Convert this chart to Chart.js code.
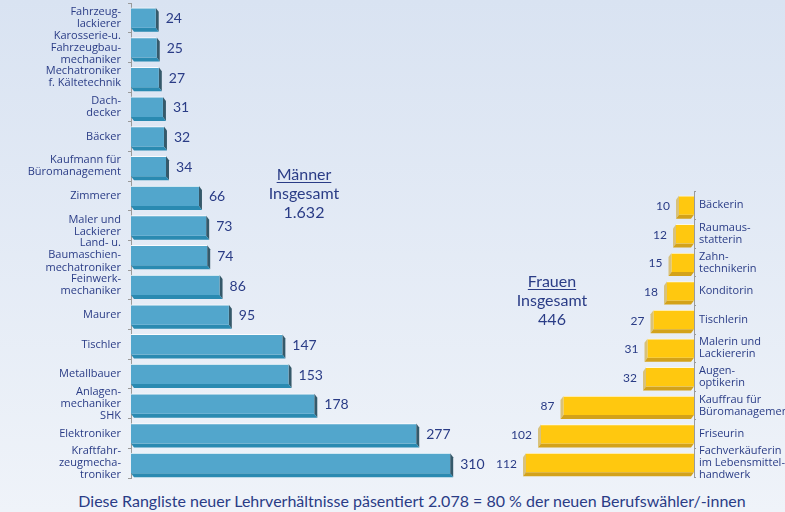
<!DOCTYPE html>
<html>
<head>
<meta charset="utf-8">
<script src="https://cdn.jsdelivr.net/npm/chart.js@4.4.0/dist/chart.umd.min.js"></script>
<style>
body{margin:0;width:785px;height:512px;overflow:hidden;position:relative;
  background:linear-gradient(#d9e3f2,#eff3f9);font-family:Lato,sans-serif;color:#2a3c86}
canvas{position:absolute;top:0}
#men{left:0}
#women{left:470px}
.total{position:absolute;text-align:center;font-size:16px;line-height:19px;transform:translateX(-50%);white-space:nowrap}
.total u{text-underline-offset:2px}
#caption{position:absolute;left:412px;top:491px;transform:translateX(-50%);white-space:nowrap;font-size:16px}
</style>
</head>
<body>
<canvas id="men" width="510" height="480"></canvas>
<canvas id="women" width="315" height="480"></canvas>
<div class="total" style="left:304px;top:164px"><u>Männer</u><br>Insgesamt<br>1.632</div>
<div class="total" style="left:552px;top:271px"><u>Frauen</u><br>Insgesamt<br>446</div>
<div id="caption">Diese Rangliste neuer Lehrverhältnisse päsentiert 2.078 = 80 % der neuen Berufswähler/-innen</div>
<script>
var berufeM = [["Fahrzeug-","lackierer"],["Karosserie-u.","Fahrzeugbau-","mechaniker"],["Mechatroniker","f. Kältetechnik"],
  ["Dach-","decker"],"Bäcker",["Kaufmann für","Büromanagement"],"Zimmerer",["Maler und","Lackierer"],
  ["Land- u.","Baumaschien-","mechatroniker"],["Feinwerk-","mechaniker"],"Maurer","Tischler","Metallbauer",
  ["Anlagen-","mechaniker","SHK"],"Elektroniker",["Kraftfahr-","zeugmecha-","troniker"]];
var anzahlM = [24,25,27,31,32,34,66,73,74,86,95,147,153,178,277,310];

var berufeW = ["Bäckerin",["Raumaus-","statterin"],["Zahn-","technikerin"],"Konditorin","Tischlerin",
  ["Malerin und","Lackiererin"],["Augen-","optikerin"],["Kauffrau für","Büromanagement"],"Friseurin",
  ["Fachverkäuferin","im Lebensmittel-","handwerk"]];
var anzahlW = [10,12,15,18,27,31,32,87,102,112];

Chart.defaults.font.family = "Lato";
Chart.defaults.color = "#2a3c86";

// 3D-Kante + Zahlen an den Balken
const tiefe = {
  id: "tiefe",
  beforeDatasetsDraw(chart, args, opts) {
    const ctx = chart.ctx, d = opts.dir;
    ctx.save();
    chart.getDatasetMeta(0).data.forEach(bar => {
      const p = bar.getProps(["x","y","base","height"], true);
      const top = p.y - p.height/2, bot = p.y + p.height/2;
      const dx = 3*d, dy = 4;
      ctx.fillStyle = opts.side;
      ctx.beginPath(); ctx.moveTo(p.x, top); ctx.lineTo(p.x+dx, top+dy);
      ctx.lineTo(p.x+dx, bot+dy); ctx.lineTo(p.x, bot); ctx.fill();
      ctx.fillStyle = opts.floor;
      ctx.beginPath(); ctx.moveTo(p.base, bot); ctx.lineTo(p.base+dx, bot+dy);
      ctx.lineTo(p.x+dx, bot+dy); ctx.lineTo(p.x, bot); ctx.fill();
    });
    ctx.restore();
  },
  afterDatasetsDraw(chart, args, opts) {
    const ctx = chart.ctx, d = opts.dir;
    const werte = chart.data.datasets[0].data;
    ctx.save();
    ctx.font = opts.size + "px Lato";
    ctx.fillStyle = "#2a3c86";
    ctx.textBaseline = "middle";
    ctx.textAlign = d > 0 ? "left" : "right";
    chart.getDatasetMeta(0).data.forEach((bar, i) => {
      ctx.fillText(werte[i], bar.x + opts.gap*d, bar.y + 1);
    });
    ctx.restore();
  }
};

function yFit(w) {
  return function(s) { s.width = w; s.paddingTop = 0; s.paddingBottom = 0; };
}

new Chart("men", {
  type: "bar",
  plugins: [tiefe],
  data: {
    labels: berufeM,
    datasets: [{
      data: anzahlM,
      backgroundColor: "#52a6cc",
      borderColor: "rgba(255,255,255,0.85)",
      borderWidth: {top:1, right:0, bottom:0, left:0},
      borderSkipped: false,
      barThickness: 20
    }]
  },
  options: {
    indexAxis: "y",
    responsive: false,
    animation: false,
    layout: {padding: {top:3, bottom:2, left:0, right:32}},
    plugins: {
      legend: {display:false},
      tooltip: {enabled:false},
      tiefe: {dir:1, side:"#35596a", floor:"#2a8ab1", size:14, gap:10}
    },
    scales: {
      x: {display:false, min:0, max:337},
      y: {
        afterFit: yFit(131),
        border: {display:true, color:"#9a9a9a"},
        grid: {offset:true, drawOnChartArea:false, tickLength:3, color:"#9a9a9a"},
        ticks: {autoSkip:false, padding:7, font:{family:"Open Sans", size:11, lineHeight:1.1}}
      }
    }
  }
});

new Chart("women", {
  type: "bar",
  plugins: [tiefe],
  data: {
    labels: berufeW,
    datasets: [{
      data: anzahlW,
      backgroundColor: "#ffc80f",
      borderColor: "rgba(255,250,225,0.9)",
      borderWidth: {top:1, right:0, bottom:0, left:0},
      borderSkipped: false,
      barThickness: 19
    }]
  },
  options: {
    indexAxis: "y",
    responsive: false,
    animation: false,
    layout: {padding: {top:191, bottom:3, left:14, right:0}},
    plugins: {
      legend: {display:false},
      tooltip: {enabled:false},
      tiefe: {dir:-1, side:"#d9c27a", floor:"#d3a21a", size:12, gap:9}
    },
    scales: {
      x: {display:false, min:0, max:140, reverse:true},
      y: {
        position: "right",
        afterFit: yFit(91),
        border: {display:true, color:"#9a9a9a"},
        grid: {offset:true, drawOnChartArea:false, tickLength:2, color:"#9a9a9a"},
        ticks: {autoSkip:false, padding:3, font:{family:"Open Sans", size:11, lineHeight:1.1}}
      }
    }
  }
});
</script>
</body>
</html>
